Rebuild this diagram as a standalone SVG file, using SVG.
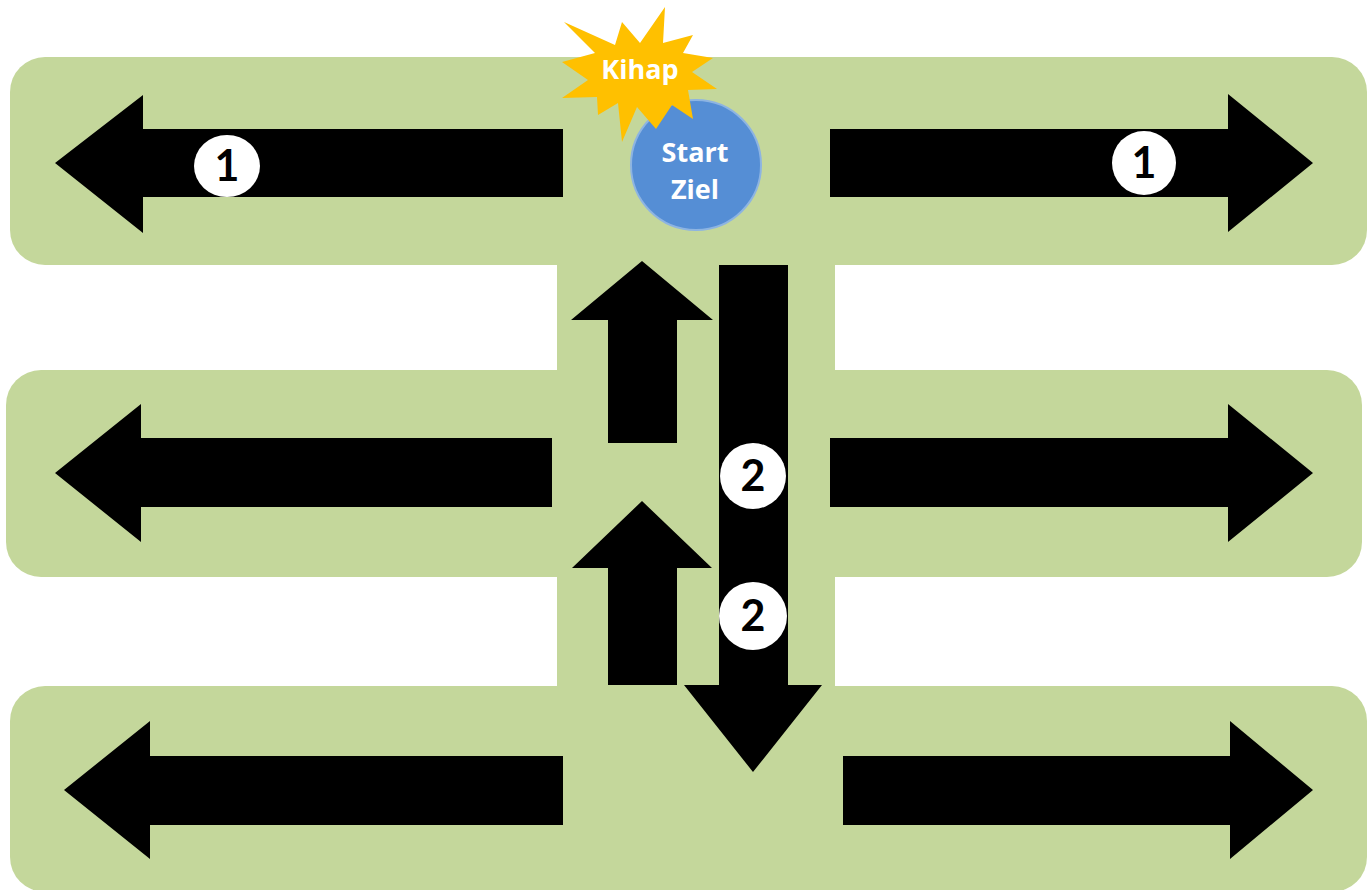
<svg xmlns="http://www.w3.org/2000/svg" width="1371" height="890" viewBox="0 0 1371 890">
<style>
.band{fill:#C4D79B}
.arrow{fill:#000}
.num{fill:#fff}
.numt{font-family:Lato,"Open Sans","Liberation Sans",sans-serif;font-weight:bold;font-size:43px;fill:#000;text-anchor:middle}
.wt{font-family:"Open Sans","Liberation Sans",sans-serif;font-weight:bold;fill:#fff;text-anchor:middle}
</style>
<rect width="1371" height="890" fill="#fff"/>
<g id="field">
<rect class="band" x="10" y="57" width="1357" height="208" rx="35"/>
<rect class="band" x="6" y="370" width="1356" height="207" rx="35"/>
<rect class="band" x="10" y="686" width="1357" height="206" rx="35"/>
<rect class="band" x="557" y="250" width="278" height="450"/>
</g>
<g id="connectors">
<polygon class="arrow" points="563,129 143,129 143,95 55,163 143,233 143,197 563,197"/>
<polygon class="arrow" points="830,129 1228,129 1228,94 1313,163 1228,232 1228,197 830,197"/>
<polygon class="arrow" points="552,438 141,438 141,404 55,473 141,542 141,507 552,507"/>
<polygon class="arrow" points="830,438 1228,438 1228,404 1313,473 1228,542 1228,507 830,507"/>
<polygon class="arrow" points="563,756 150,756 150,721 64,790 150,859 150,825 563,825"/>
<polygon class="arrow" points="843,756 1230,756 1230,721 1313,790 1230,859 1230,825 843,825"/>
<polygon class="arrow" points="608,443 608,320 571,320 642,261 713,320 677,320 677,443"/>
<polygon class="arrow" points="608,685 608,568 572,568 642,501 712,568 677,568 677,685"/>
<polygon class="arrow" points="719,265 788,265 788,685 822,685 753,772 684,685 719,685"/>
</g>
<g id="badge-1-left">
<ellipse class="num" cx="227" cy="166" rx="33" ry="31"/>
<text class="numt" x="227" y="181">1</text>
</g>
<g id="badge-1-right">
<circle class="num" cx="1144" cy="163" r="32"/>
<text class="numt" x="1144" y="178">1</text>
</g>
<g id="badge-2-upper">
<circle class="num" cx="753" cy="476" r="33"/>
<text class="numt" x="753" y="491">2</text>
</g>
<g id="badge-2-lower">
<circle class="num" cx="753" cy="616" r="34"/>
<text class="numt" x="753" y="631">2</text>
</g>
<g id="start-ziel">
<circle cx="696" cy="165" r="65" fill="#558ED5" stroke="#8DB4E2" stroke-width="2"/>
<text class="wt" x="695" y="162" font-size="27">Start</text>
<text class="wt" x="695" y="199" font-size="27">Ziel</text>
</g>
<g id="kihap">
<polygon fill="#FFC000" points="564,22 615,45 622,22 640,43 665,7 663,43 693,35 683,53 713,58 692,72 717,89 688,90 693,119 672,105 656,129 637,107 622,142 618,103 598,115 597,97 562,98 588,80 562,62 595,53"/>
<text class="wt" x="640" y="79" font-size="27">Kihap</text>
</g>
</svg>
